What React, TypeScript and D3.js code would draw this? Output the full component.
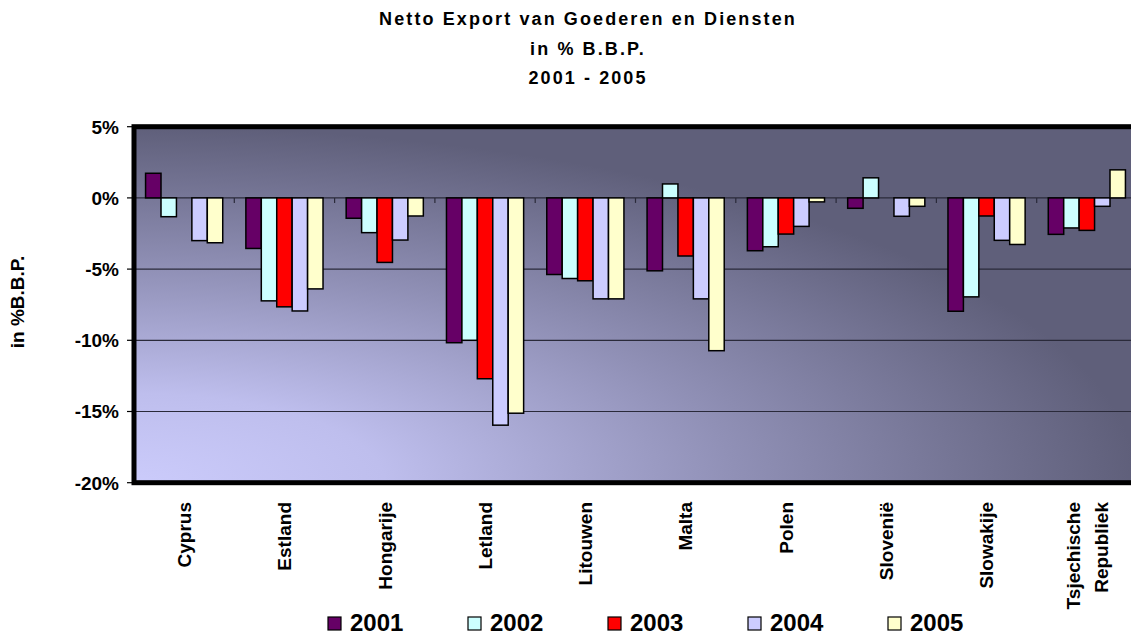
import React, { useEffect } from "react";
import * as d3 from "d3";

const categories: string[][] = [
  ["Cyprus"],
  ["Estland"],
  ["Hongarije"],
  ["Letland"],
  ["Litouwen"],
  ["Malta"],
  ["Polen"],
  ["Slovenië"],
  ["Slowakije"],
  ["Tsjechische", "Republiek"],
];
const seriesNames = ["2001", "2002", "2003", "2004", "2005"];
const seriesColors = ["#660066", "#ccffff", "#ff0000", "#ccccff", "#ffffcc"];

const v2001: (number | null)[] = [1.73, -3.55, -1.43, -10.17, -5.38, -5.12, -3.71, -0.73, -7.96, -2.56];
const v2002: (number | null)[] = [-1.32, -7.23, -2.44, -10.0, -5.66, 0.98, -3.43, 1.41, -6.95, -2.11];
const v2003: (number | null)[] = [null, -7.65, -4.53, -12.7, -5.82, -4.08, -2.54, null, -1.27, -2.28];
const v2004: (number | null)[] = [-3.0, -7.94, -2.96, -15.96, -7.09, -7.09, -2.0, -1.29, -2.98, -0.59];
const v2005: (number | null)[] = [-3.15, -6.39, -1.27, -15.12, -7.09, -10.73, -0.28, -0.59, -3.27, 1.97];
const seriesValues = [v2001, v2002, v2003, v2004, v2005];

const yTicks = [5, 0, -5, -10, -15, -20];
const titleLines = ["Netto Export van Goederen en Diensten", "in % B.B.P.", "2001 - 2005"];
const yAxisTitle = "in %B.B.P.";

const FONT = "Arial, 'Liberation Sans', Helvetica, sans-serif";

export default function App() {
  useEffect(() => {
    document.body.style.margin = "0";
    document.body.style.overflow = "hidden";
  }, []);

  const W = 1131;
  const H = 637;
  const left = 134;
  const right = 1137;
  const top = 126.7;
  const bottom = 482.7;

  const y = d3.scaleLinear().domain([-20, 5]).range([bottom, top]);
  const catKeys = categories.map((c) => c.join(" "));
  const x = d3.scaleBand<string>().domain(catKeys).range([left, right]).paddingInner(0).paddingOuter(0);
  const xs = d3
    .scaleBand<string>()
    .domain(seriesNames)
    .range([0, x.bandwidth()])
    .paddingInner(0)
    .paddingOuter(0.75);

  const y0 = y(0);

  return (
    <svg width={W} height={H} style={{ display: "block", position: "absolute", left: 0, top: 0 }} fontFamily={FONT}>
      <defs>
        <radialGradient id="bg" cx="0" cy="1" r="1" fx="0" fy="1">
          <stop offset="0" stopColor="#cbcbfb" />
          <stop offset="0.25" stopColor="#bebeed" />
          <stop offset="0.6" stopColor="#9090b6" />
          <stop offset="1" stopColor="#5f5f7a" />
        </radialGradient>
      </defs>
      <rect width={W} height={H} fill="#ffffff" />

      {/* Title */}
      {titleLines.map((t, i) => (
        <text
          key={t}
          x={588}
          y={25 + i * 29.5}
          textAnchor="middle"
          fontSize={18}
          fontWeight="bold"
          letterSpacing={2.1}
          fill="#000"
        >
          {t}
        </text>
      ))}

      {/* Plot background */}
      <rect x={left} y={top} width={right - left} height={bottom - top} fill="url(#bg)" />

      {/* Gridlines */}
      {yTicks
        .filter((t) => t !== 5 && t !== -20)
        .map((t) => (
          <line key={t} x1={left} x2={right} y1={y(t)} y2={y(t)} stroke="#2a2a3a" strokeWidth={1.2} />
        ))}

      {/* Category tick marks on zero axis */}
      {catKeys.slice(1).map((k) => (
        <line key={k} x1={x(k)!} x2={x(k)!} y1={y0} y2={y0 + 5} stroke="#2a2a3a" strokeWidth={1.2} />
      ))}

      {/* Bars */}
      {catKeys.map((k, ci) =>
        seriesNames.map((s, si) => {
          const v = seriesValues[si][ci];
          if (v === null || v === undefined) return null;
          const bx = x(k)! + xs(s)!;
          const by = Math.min(y(v), y0);
          const bh = Math.abs(y(v) - y0);
          return (
            <rect
              key={k + s}
              x={bx}
              y={by}
              width={xs.bandwidth()}
              height={bh}
              fill={seriesColors[si]}
              stroke="#000"
              strokeWidth={1.5}
            />
          );
        })
      )}

      {/* Plot border */}
      <rect x={left} y={top} width={right - left} height={bottom - top} fill="none" stroke="#000" strokeWidth={5} />

      {/* Y ticks and labels */}
      {yTicks.map((t) => (
        <g key={t}>
          <line x1={127} x2={132} y1={y(t)} y2={y(t)} stroke="#000" strokeWidth={1.2} />
          <text
            x={119}
            y={y(t)}
            dy="0.36em"
            textAnchor="end"
            fontSize={19}
            fontWeight="bold"
            fill="#000"
          >
            {t + "%"}
          </text>
        </g>
      ))}

      {/* Y axis title */}
      <text
        transform={`translate(17,302) rotate(-90)`}
        dy="0.36em"
        textAnchor="middle"
        fontSize={19}
        fontWeight="bold"
        fill="#000"
      >
        {yAxisTitle}
      </text>

      {/* Category labels */}
      {categories.map((lines, ci) => {
        const cx = x(catKeys[ci])! + x.bandwidth() / 2;
        const n = lines.length;
        const spacing = 28;
        return lines.map((ln, li) => {
          const lx = cx + (li - (n - 1) / 2) * spacing;
          return (
            <text
              key={ln}
              transform={`translate(${lx},502) rotate(-90)`}
              dy="0.36em"
              textAnchor="end"
              fontSize={19}
              fontWeight="bold"
              fill="#000"
            >
              {ln}
            </text>
          );
        });
      })}

      {/* Legend */}
      {seriesNames.map((s, i) => (
        <g key={s}>
          <rect x={328 + i * 140} y={617} width={13} height={13} fill={seriesColors[i]} stroke="#000" strokeWidth={1.2} />
          <text x={350 + i * 140} y={631} fontSize={24} fontWeight="bold" fill="#000">
            {s}
          </text>
        </g>
      ))}
    </svg>
  );
}
